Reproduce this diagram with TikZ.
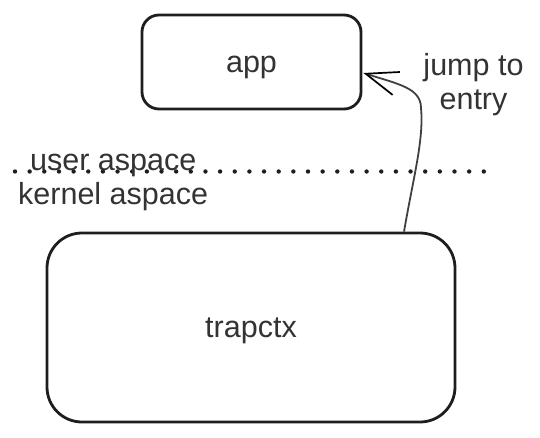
\documentclass[tikz,border=0pt]{standalone}
\usepackage{fontspec}
\setmainfont{Liberation Sans}
\usetikzlibrary{arrows.meta,calc}
\definecolor{txt}{HTML}{333333}
\definecolor{ink}{HTML}{1E1E1E}
\begin{document}
\begin{tikzpicture}[x=1pt,y=-1pt,
  lbl/.style={font=\fontsize{30.5pt}{34pt}\selectfont, text=txt, inner sep=0pt},
  box/.style={draw=ink, line width=2.8pt, lbl, text height=20.5pt, text depth=0pt},
  dotline/.style={draw=ink, line width=4.4pt, line cap=round, dash pattern=on 0pt off 14.65pt},
  jumparrow/.style={draw=black!75, line width=1.8pt, -{Straight Barb[length=32pt,width=24pt,line width=1.7pt,black]}}
]
\useasboundingbox (0,0) rectangle (540,437);
\node[box, rounded corners=17pt, minimum width=219pt, minimum height=94pt] (app) at (251.5,62) {app};
\node[box, rounded corners=35pt, minimum width=408pt, minimum height=189pt] (trap) at (251,327.5) {trapctx};
\coordinate (dl) at (15,171.5);
\coordinate (dr) at (484,171.5);
\draw[dotline] (dl) -- (dr);
\node[lbl, anchor=base west] (user) at (30,170) {user aspace};
\node[lbl, anchor=base west] (kernel) at (18,204) {kernel aspace};
\node[lbl, anchor=base] (jump1) at (473.5,75) {jump to};
\node[lbl, anchor=base] (jump2) at (473.5,109) {entry};
\coordinate (start) at ($(trap.north west)!0.8725!(trap.north east)$);
\draw[jumparrow] (start) .. controls +(9,-53) and (424,140) .. (421,108)
  .. controls (421,88) and (398,84) .. ([xshift=1pt,yshift=-11pt]app.east);
\end{tikzpicture}
\end{document}
